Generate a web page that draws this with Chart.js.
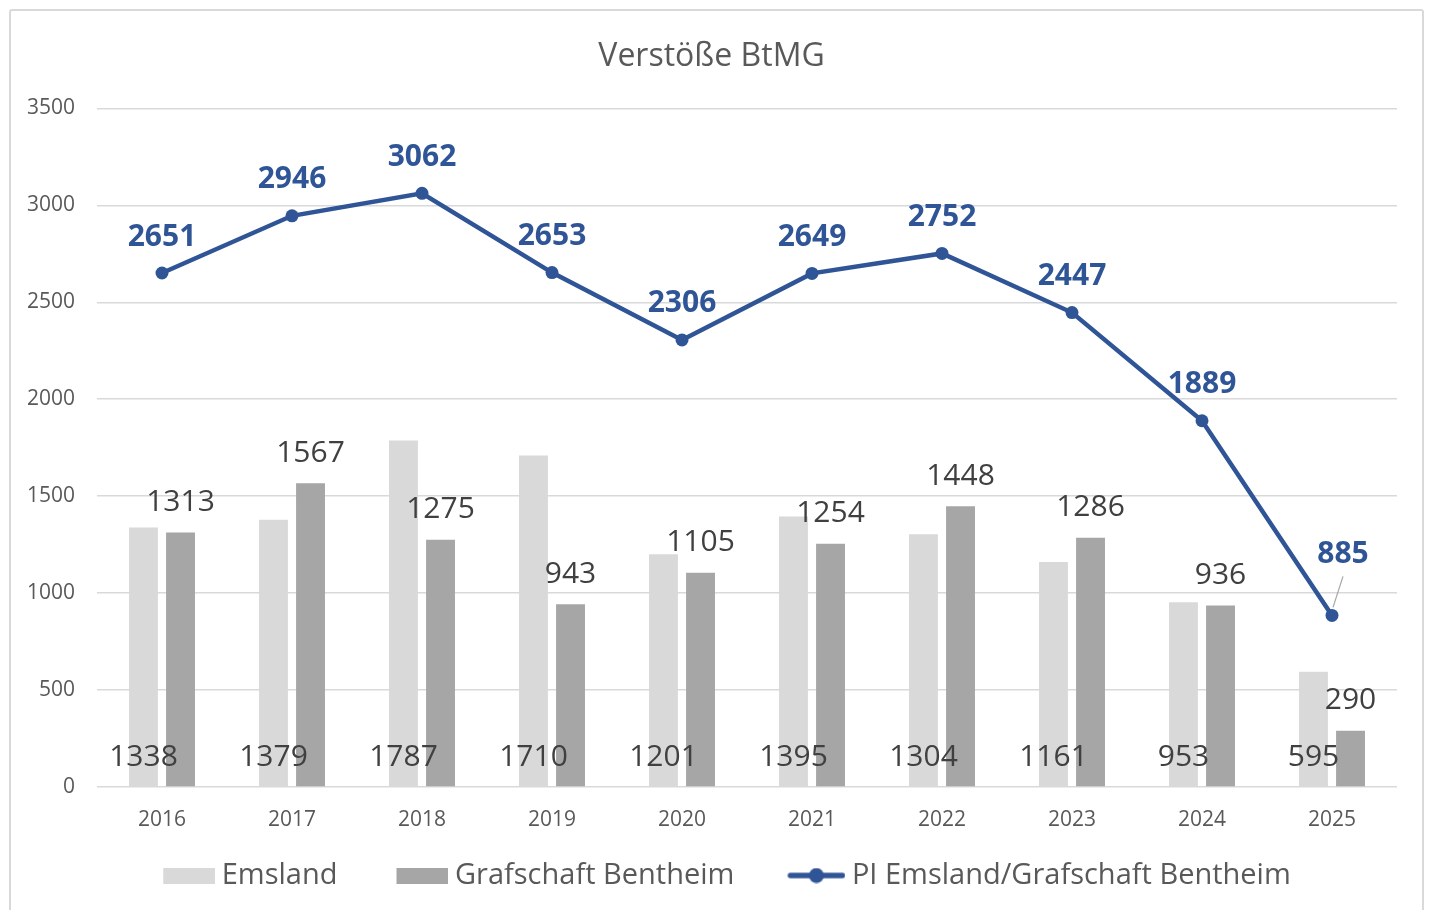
<!DOCTYPE html>
<html>
<head>
<meta charset="utf-8">
<title>Verstöße BtMG</title>
<script src="https://cdn.jsdelivr.net/npm/chart.js@4.4.1/dist/chart.umd.min.js"></script>
<style>
  html, body { margin: 0; padding: 0; background: #fff; }
  #frame {
    position: absolute; left: 9px; top: 9px; width: 1415px; height: 920px;
    border: 2px solid #d9d9d9; border-radius: 3px; box-sizing: border-box;
  }
  #wrap { position: absolute; left: 0; top: 0; width: 1431px; height: 910px; }
</style>
</head>
<body>
<div id="frame"></div>
<div id="wrap"><canvas id="chart"></canvas></div>
<script>
const years = ["2016", "2017", "2018", "2019", "2020", "2021", "2022", "2023", "2024", "2025"];
const emsland = [1338, 1379, 1787, 1710, 1201, 1395, 1304, 1161, 953, 595];
const grafschaft = [1313, 1567, 1275, 943, 1105, 1254, 1448, 1286, 936, 290];
const piTotal = [2651, 2946, 3062, 2653, 2306, 2649, 2752, 2447, 1889, 885];

const BLUE = "#2f5597";
const LIGHT = "#d9d9d9";
const DARK = "#a6a6a6";
const TEXT = "#595959";
const FONT = "'Open Sans', sans-serif";

Chart.defaults.font.family = FONT;
Chart.defaults.color = TEXT;

// legend markers: wider than the marker box, so the mark sits right next to its text
// and the empty left part gives the space between legend entries
const ICON_BOX = 75;
const ICON_W = ICON_BOX + 16;
function makeIcon(h, draw) {
  const c = document.createElement("canvas");
  c.width = ICON_W;
  c.height = h;
  draw(c.getContext("2d"), ICON_W, h);
  return c;
}
const legendIcons = [
  makeIcon(16, (g, w, h) => { g.fillStyle = LIGHT; g.fillRect(w - 52, 0, 52, h); }),
  makeIcon(16, (g, w, h) => { g.fillStyle = DARK; g.fillRect(w - 52, 0, 52, h); }),
  makeIcon(16, (g, w, h) => {
    g.strokeStyle = BLUE;
    g.lineWidth = 5.5;
    g.lineCap = "round";
    g.beginPath(); g.moveTo(w - 55, h / 2); g.lineTo(w - 3, h / 2); g.stroke();
    g.fillStyle = BLUE;
    g.beginPath(); g.arc(w - 29, h / 2, 7.5, 0, Math.PI * 2); g.fill();
  }),
];

// label offsets for the line values (last one sits beside the point with a leader)
const lineLabelShift = (i, n) => (i === n - 1 ? { dx: 11, dy: -61, leader: true } : { dx: 0, dy: -36 });

const valueLabels = {
  id: "valueLabels",
  afterDatasetsDraw(chart) {
    const ctx = chart.ctx;
    const zeroY = chart.scales.y.getPixelForValue(0);
    ctx.save();
    ctx.textAlign = "center";
    ctx.textBaseline = "middle";

    ctx.font = "30px " + FONT;
    ctx.fillStyle = "#404040";
    chart.getDatasetMeta(0).data.forEach((bar, i) => {
      ctx.fillText(emsland[i], bar.x, zeroY - 30);
    });
    chart.getDatasetMeta(1).data.forEach((bar, i) => {
      ctx.fillText(grafschaft[i], bar.x, bar.y - 30);
    });

    ctx.font = "bold 30px " + FONT;
    const pts = chart.getDatasetMeta(2).data;
    pts.forEach((pt, i) => {
      const s = lineLabelShift(i, pts.length);
      if (s.leader) {
        ctx.strokeStyle = DARK;
        ctx.lineWidth = 1.2;
        ctx.beginPath();
        ctx.moveTo(pt.x + s.dx, pt.y + s.dy + 22);
        ctx.lineTo(pt.x + 1, pt.y - 8);
        ctx.stroke();
      }
      ctx.fillStyle = BLUE;
      ctx.fillText(piTotal[i], pt.x + s.dx, pt.y + s.dy);
    });
    ctx.restore();
  },
};

new Chart(document.getElementById("chart"), {
  data: {
    labels: years,
    datasets: [
      {
        type: "bar",
        label: "Emsland",
        data: emsland,
        backgroundColor: LIGHT,
        categoryPercentage: 0.57,
        barPercentage: 0.78,
      },
      {
        type: "bar",
        label: "Grafschaft Bentheim",
        data: grafschaft,
        backgroundColor: DARK,
        categoryPercentage: 0.57,
        barPercentage: 0.78,
      },
      {
        type: "line",
        label: "PI Emsland/Grafschaft Bentheim",
        data: piTotal,
        borderColor: BLUE,
        backgroundColor: BLUE,
        borderWidth: 4.5,
        pointRadius: 6.5,
        pointBackgroundColor: BLUE,
        pointBorderWidth: 0,
        tension: 0,
      },
    ],
  },
  options: {
    responsive: true,
    maintainAspectRatio: false,
    animation: false,
    layout: { padding: { left: 26, right: 34, top: 0, bottom: 10 } },
    plugins: {
      title: {
        display: true,
        text: "Verstöße BtMG",
        color: TEXT,
        font: { size: 32, weight: "normal" },
        padding: { top: 38, bottom: 32 },
      },
      legend: {
        position: "bottom",
        labels: {
          color: TEXT,
          font: { size: 29 },
          usePointStyle: true,
          pointStyleWidth: ICON_BOX,
          boxHeight: 16,
          padding: 28,
          generateLabels(chart) {
            const items = Chart.defaults.plugins.legend.labels.generateLabels(chart);
            items.forEach((item, i) => { item.pointStyle = legendIcons[i]; });
            return items;
          },
        },
      },
      tooltip: { enabled: false },
    },
    scales: {
      x: {
        grid: { display: false, drawTicks: false },
        border: { display: false },
        ticks: { color: TEXT, font: { size: 21 }, padding: 20 },
        afterFit(scale) { scale.height = 46; },
      },
      y: {
        min: 0,
        max: 3500,
        ticks: { stepSize: 500, color: TEXT, font: { size: 21 }, padding: 22, callback: (v) => String(v) },
        grid: { color: LIGHT, lineWidth: 1.5, drawTicks: false },
        border: { display: false },
        afterFit(scale) { scale.width = 71; },
      },
    },
  },
  plugins: [valueLabels],
});
</script>
</body>
</html>
